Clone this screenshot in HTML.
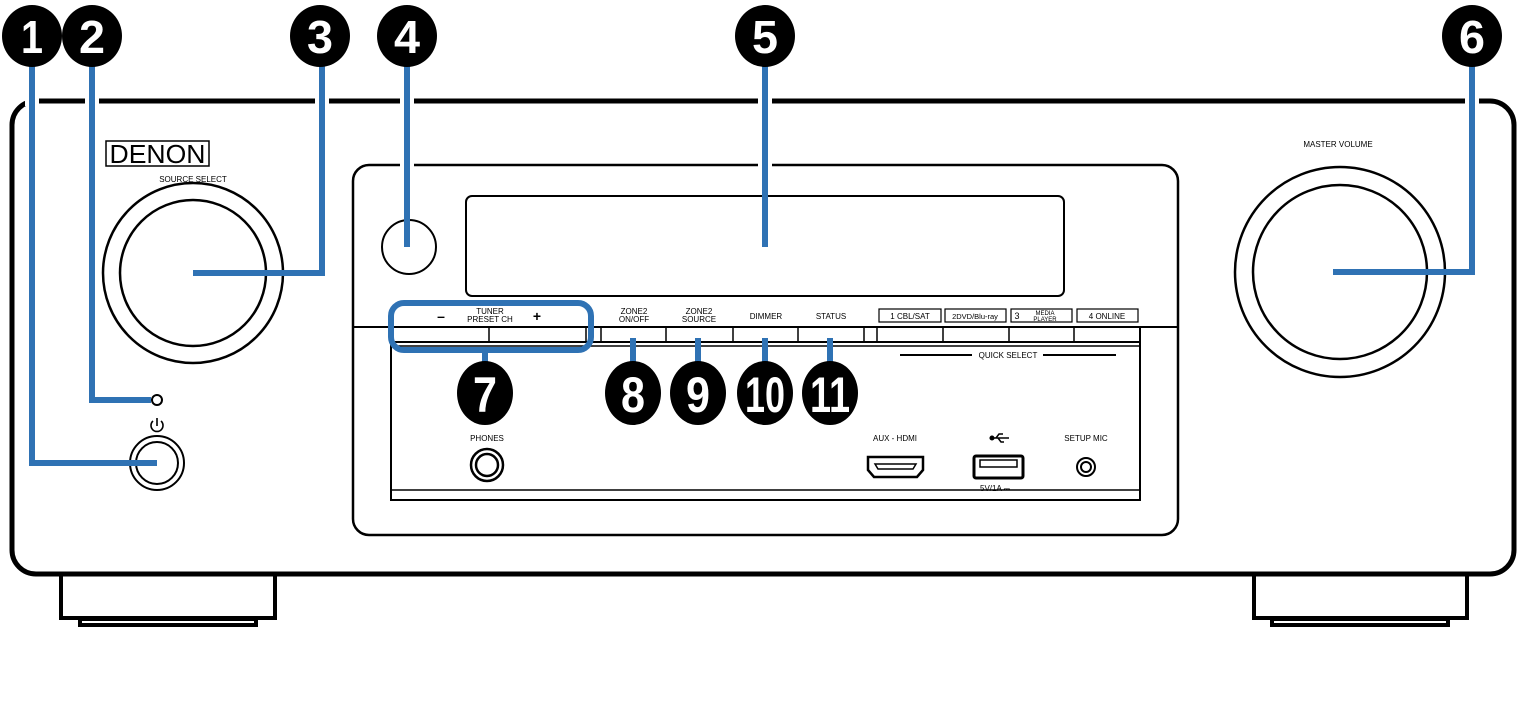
<!DOCTYPE html>
<html><head><meta charset="utf-8"><style>
html,body{margin:0;padding:0;background:#fff;width:1522px;height:707px;overflow:hidden}
text{font-family:"Liberation Sans",sans-serif}
</style></head><body>
<svg width="1522" height="707" viewBox="0 0 1522 707" xmlns="http://www.w3.org/2000/svg">
<g fill="none" stroke="#000">
<path d="M61 576 V618 H275 V576" stroke-width="4" fill="#fff"/>
<rect x="80" y="619" width="176" height="6" stroke-width="4"/>
<path d="M1254 576 V618 H1467 V576" stroke-width="4" fill="#fff"/>
<rect x="1272" y="619" width="176" height="6" stroke-width="4"/>
<rect x="12" y="101" width="1502" height="473" rx="24" stroke-width="5" fill="#fff"/>
<rect x="353" y="165" width="825" height="370" rx="16" stroke-width="2.5"/>
<rect x="466" y="196" width="598" height="100" rx="6" stroke-width="2"/>
<circle cx="409" cy="247" r="27" stroke-width="2"/>
<line x1="353" y1="327" x2="1178" y2="327" stroke-width="2"/>
<line x1="391" y1="342" x2="1140" y2="342" stroke-width="2"/>
<line x1="391" y1="346" x2="1140" y2="346" stroke-width="1.5"/>
<g stroke-width="1.5">
<line x1="489" y1="327" x2="489" y2="342"/><line x1="586" y1="327" x2="586" y2="342"/>
<line x1="601" y1="327" x2="601" y2="342"/><line x1="666" y1="327" x2="666" y2="342"/>
<line x1="733" y1="327" x2="733" y2="342"/><line x1="798" y1="327" x2="798" y2="342"/>
<line x1="864" y1="327" x2="864" y2="342"/><line x1="877" y1="327" x2="877" y2="342"/>
<line x1="943" y1="327" x2="943" y2="342"/><line x1="1009" y1="327" x2="1009" y2="342"/>
<line x1="1074" y1="327" x2="1074" y2="342"/>
</g>
<path d="M391 327 V500 H1140 V327" stroke-width="2"/>
<line x1="391" y1="490" x2="1140" y2="490" stroke-width="1.5"/>
<g stroke-width="1.2">
<rect x="879" y="309" width="62" height="13"/><rect x="945" y="309" width="61" height="13"/>
<rect x="1011" y="309" width="61" height="13"/><rect x="1077" y="309" width="61" height="13"/>
</g>
<line x1="900" y1="355" x2="972" y2="355" stroke-width="2"/>
<line x1="1043" y1="355" x2="1116" y2="355" stroke-width="2"/>
<circle cx="193" cy="273" r="90" stroke-width="2.5"/>
<circle cx="193" cy="273" r="73" stroke-width="2.5"/>
<circle cx="1340" cy="272" r="105" stroke-width="2.5"/>
<circle cx="1340" cy="272" r="87" stroke-width="2.5"/>
<circle cx="157" cy="463" r="27" stroke-width="2"/>
<circle cx="157" cy="463" r="21" stroke-width="2"/>
<circle cx="157" cy="400" r="5" stroke-width="2"/>
<path d="M153 421 A6 6 0 1 0 161 421" stroke-width="1.6"/>
<line x1="157" y1="418" x2="157" y2="426" stroke-width="1.6"/>
<circle cx="487" cy="465" r="16" stroke-width="2.5"/>
<circle cx="487" cy="465" r="11" stroke-width="2.5"/>
<path d="M868 457 H923 V470 L917 477 H874 L868 470 Z" stroke-width="2.5"/>
<path d="M875 464 H916 L913 469 H878 Z" stroke-width="1.5"/>
<rect x="974" y="456" width="49" height="22" rx="2" stroke-width="3"/>
<rect x="980" y="460" width="37" height="7" stroke-width="1.5"/>
<circle cx="1086" cy="467" r="9" stroke-width="2"/>
<circle cx="1086" cy="467" r="5" stroke-width="2"/>
<rect x="106" y="141" width="103" height="25" stroke-width="1.5"/>
</g>
<text x="157.5" y="163" font-size="26" text-anchor="middle" textLength="96" lengthAdjust="spacingAndGlyphs">DENON</text>
<g font-size="8" text-anchor="middle" fill="#000">
<text x="193" y="182">SOURCE SELECT</text>
<text x="1338" y="147">MASTER VOLUME</text>
<text x="490" y="314">TUNER</text><text x="490" y="322">PRESET CH</text>
<text x="634" y="314">ZONE2</text><text x="634" y="322">ON/OFF</text>
<text x="699" y="314">ZONE2</text><text x="699" y="322">SOURCE</text>
<text x="766" y="319">DIMMER</text>
<text x="831" y="319">STATUS</text>
<text x="910" y="319">1  CBL/SAT</text>
<text x="975" y="319" font-size="7.5">2DVD/Blu-ray</text>
<text x="1017" y="319" font-size="9">3</text>
<text x="1045" y="315" font-size="6">MEDIA</text><text x="1045" y="321" font-size="6">PLAYER</text>
<text x="1107" y="319">4  ONLINE</text>
<text x="1008" y="358">QUICK SELECT</text>
<text x="487" y="441">PHONES</text>
<text x="895" y="441">AUX - HDMI</text>
<text x="1086" y="441">SETUP MIC</text>
<text x="995" y="491">5V/1A ⎓</text>
</g>
<g stroke="#000" stroke-width="1.5" fill="#000">
<line x1="992" y1="438" x2="1009" y2="438"/><circle cx="992" cy="438" r="1.8"/>
<path d="M996 438 L999 434 H1003" fill="none"/><path d="M998 438 L1001 442 H1004" fill="none"/>
</g>
<text x="441" y="321" font-size="14" font-weight="bold" text-anchor="middle">–</text>
<text x="537" y="321" font-size="14" font-weight="bold" text-anchor="middle">+</text>
<g stroke="#fff" stroke-width="14" fill="none">
<line x1="32" y1="95" x2="32" y2="106"/><line x1="92" y1="95" x2="92" y2="106"/>
<line x1="322" y1="95" x2="322" y2="106"/><line x1="407" y1="95" x2="407" y2="106"/>
<line x1="765" y1="95" x2="765" y2="106"/><line x1="1472" y1="95" x2="1472" y2="106"/>
<line x1="407" y1="160" x2="407" y2="170"/><line x1="765" y1="160" x2="765" y2="170"/>
</g>
<g stroke="#2f72b4" stroke-width="6" fill="none">
<path d="M32 60 V463 H157"/>
<path d="M92 60 V400 H151"/>
<path d="M322 60 V273 H193"/>
<path d="M407 60 V247"/>
<path d="M765 60 V247"/>
<path d="M1472 60 V272 H1333"/>
<rect x="391" y="303" width="200" height="47" rx="13"/>
<path d="M485 350 V375"/>
<path d="M633 338 V370"/><path d="M698 338 V370"/><path d="M765 338 V370"/><path d="M830 338 V370"/>
</g>
<g fill="#000">
<ellipse cx="32" cy="36" rx="30" ry="31"/><ellipse cx="92" cy="36" rx="30" ry="31"/>
<ellipse cx="320" cy="36" rx="30" ry="31"/><ellipse cx="407" cy="36" rx="30" ry="31"/>
<ellipse cx="765" cy="36" rx="30" ry="31"/><ellipse cx="1472" cy="36" rx="30" ry="31"/>
<ellipse cx="485" cy="393" rx="28" ry="32"/><ellipse cx="633" cy="393" rx="28" ry="32"/>
<ellipse cx="698" cy="393" rx="28" ry="32"/><ellipse cx="765" cy="393" rx="28" ry="32"/>
<ellipse cx="830" cy="393" rx="28" ry="32"/>
</g>
<g fill="#fff" font-size="46" font-weight="bold" text-anchor="middle">
<text x="32" y="53" textLength="22" lengthAdjust="spacingAndGlyphs">1</text>
<text x="92" y="53" textLength="26" lengthAdjust="spacingAndGlyphs">2</text>
<text x="320" y="53" textLength="26" lengthAdjust="spacingAndGlyphs">3</text>
<text x="407" y="53" textLength="26" lengthAdjust="spacingAndGlyphs">4</text>
<text x="765" y="53" textLength="26" lengthAdjust="spacingAndGlyphs">5</text>
<text x="1472" y="53" textLength="26" lengthAdjust="spacingAndGlyphs">6</text>
<text x="485" y="412" font-size="50" textLength="24" lengthAdjust="spacingAndGlyphs">7</text>
<text x="633" y="412" font-size="50" textLength="24" lengthAdjust="spacingAndGlyphs">8</text>
<text x="698" y="412" font-size="50" textLength="24" lengthAdjust="spacingAndGlyphs">9</text>
<text x="765" y="412" font-size="50" textLength="40" lengthAdjust="spacingAndGlyphs">10</text>
<text x="830" y="412" font-size="50" textLength="40" lengthAdjust="spacingAndGlyphs">11</text>
</g>
</svg>
</body></html>
